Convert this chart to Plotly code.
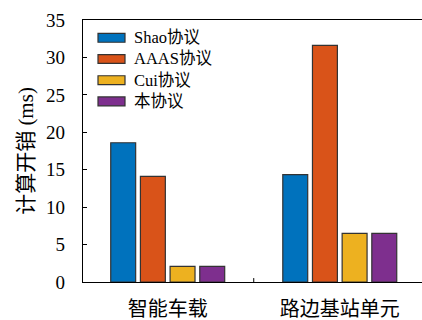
import plotly.graph_objects as go

categories = ["智能车载", "路边基站单元"]
series_names = ["Shao协议", "AAAS协议", "Cui协议", "本协议"]
shao = [18.6, 14.35]
aaas = [14.1, 31.6]
cui = [2.1, 6.5]
ours = [2.1, 6.5]
colors = ["#0072BD", "#D95319", "#EDB120", "#7E2F8E"]
y_ticks = [0, 5, 10, 15, 20, 25, 30, 35]

FONT = "Liberation Serif, Noto Sans CJK SC, serif"
EDGE = "#333333"

fig = go.Figure()
for name, vals, c in zip(series_names, [shao, aaas, cui, ours], colors):
    fig.add_trace(go.Bar(
        x=categories, y=vals, name=name, showlegend=False,
        marker=dict(color=c, line=dict(color=EDGE, width=1.2)),
    ))

W, H = 422, 320
L, R, T, B = 83, 0, 20, 35
pw, ph = W - L - R, H - T - B

def px(xp):
    return (xp - L) / pw

def py(yp):
    return (H - B - yp) / ph

# custom legend (upper left, inside axes)
LEG_FS = 16.5
row = 1.3 * LEG_FS
y0 = 38
for i, c in enumerate(colors):
    yc = y0 + row * i
    fig.add_shape(type="rect", xref="paper", yref="paper",
                  x0=px(98), x1=px(125), y0=py(yc + 4.5), y1=py(yc - 4.5),
                  fillcolor=c, line=dict(color=EDGE, width=1.2))
fig.add_annotation(xref="paper", yref="paper", x=px(132), y=py(y0 + 1.5 * row),
                   xanchor="left", yanchor="middle", align="left",
                   text="<br>".join(series_names), showarrow=False,
                   font=dict(size=LEG_FS, family=FONT, color="black"))

fig.update_layout(
    width=W, height=H,
    margin=dict(l=L, r=R, t=T, b=B),
    paper_bgcolor="white", plot_bgcolor="white",
    barmode="group", bargap=0.31, bargroupgap=0.16,
    font=dict(family=FONT, size=19, color="black"),
    showlegend=False,
    xaxis=dict(range=[-0.4924, 1.478], showline=True, linecolor="black", linewidth=1.2,
               mirror=True, ticks="", showgrid=False, tickfont=dict(size=20),
               ticklabelstandoff=9),
    yaxis=dict(range=[0, 35], tickvals=y_ticks, showline=True, linecolor="black",
               linewidth=1.2, ticks="inside", ticklen=4, tickcolor="black",
               showgrid=False, zeroline=False, tickfont=dict(size=19),
               ticklabelstandoff=13,
               title=dict(text="计算开销 (ms)", font=dict(size=21), standoff=6)),
)
# middle tick between the two category groups
fig.add_shape(type="line", xref="x", yref="paper", x0=0.5, x1=0.5, y0=0, y1=0.015,
              line=dict(color="black", width=1))

fig.write_html("out.html")
